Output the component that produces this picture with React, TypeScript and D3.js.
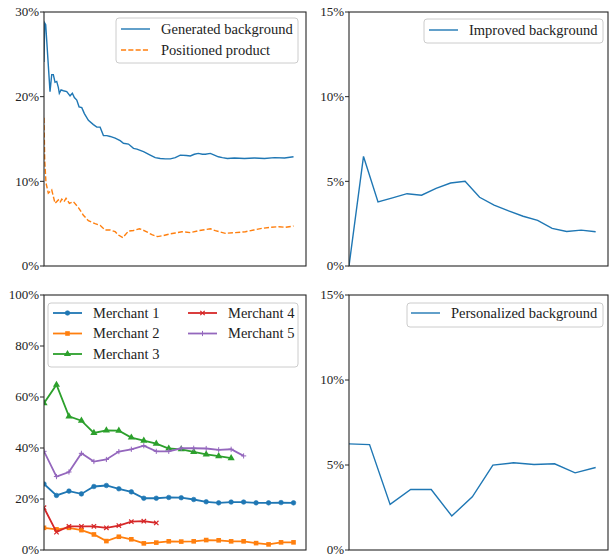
import React from "react";
import * as d3 from "d3";

// ---------- data ----------
const genX = [0, 0.7, 1.7, 6, 7.7, 9.3, 11, 12.7, 14.3, 15.3, 17, 19.3, 22.7, 26, 28.3, 30.3, 32.7, 35, 37.7, 40.3, 44.3, 49.3, 52.7, 56, 59.3, 62.7, 66, 71, 76, 79.3, 84.3, 89.3, 92.7, 99.3, 106, 111, 116, 121, 126, 131, 136, 142, 146, 150, 154, 158, 161, 166, 170, 174, 178, 183, 190, 200, 210, 220, 230, 240, 249];
const genY = [24.1, 28.7, 28.5, 20.6, 22.6, 22.6, 21.7, 21.8, 21.1, 20.4, 20.8, 20.7, 20.6, 20.1, 20.4, 19.9, 19.6, 18.8, 18.7, 18.0, 17.2, 16.7, 16.4, 16.4, 15.4, 15.4, 15.3, 15.1, 14.8, 14.5, 14.4, 13.9, 13.8, 13.5, 13.1, 12.8, 12.7, 12.65, 12.65, 12.8, 13.1, 13.05, 13.0, 13.2, 13.3, 13.2, 13.2, 13.3, 13.1, 12.9, 12.8, 12.7, 12.75, 12.7, 12.75, 12.7, 12.8, 12.75, 12.9];
const prodX = [0, 0.7, 2, 4.3, 7.7, 11, 14.3, 16, 17.7, 20, 22, 25.3, 29.3, 34.3, 39.3, 44.3, 51, 56, 61, 66, 71, 74.3, 78.7, 84.3, 89.3, 95.3, 101, 107.7, 113.3, 119.3, 126, 131, 137.7, 146, 154.3, 166, 171, 181, 191, 201, 209.3, 217.7, 226, 234.3, 241, 249];
const prodY = [17.5, 12.5, 9.8, 8.6, 9.0, 7.4, 7.8, 7.5, 7.9, 7.6, 8.0, 7.4, 7.6, 6.9, 6.0, 5.35, 5.0, 4.8, 4.25, 4.25, 4.05, 3.66, 3.35, 4.13, 4.2, 4.4, 4.13, 3.7, 3.47, 3.6, 3.8, 3.9, 4.05, 3.94, 4.17, 4.4, 4.17, 3.86, 3.94, 4.05, 4.25, 4.45, 4.57, 4.64, 4.57, 4.72];

const improvedY = [0, 6.47, 3.78, 4.02, 4.27, 4.18, 4.59, 4.9, 5.0, 4.06, 3.59, 3.25, 2.94, 2.7, 2.22, 2.04, 2.12, 2.02];
const personalizedY = [6.24, 6.2, 2.68, 3.56, 3.56, 2.0, 3.13, 4.99, 5.13, 5.03, 5.07, 4.54, 4.85];

const merchant1 = [25.9, 21.4, 23.1, 22.0, 24.9, 25.3, 24.0, 22.8, 20.3, 20.3, 20.6, 20.5, 19.8, 18.9, 18.5, 18.8, 18.8, 18.5, 18.5, 18.6, 18.5];
const merchant2 = [8.7, 8.1, 8.7, 7.8, 6.1, 3.5, 5.2, 4.2, 2.6, 2.9, 3.4, 3.3, 3.4, 3.9, 3.8, 3.4, 3.4, 2.7, 2.2, 3.0, 3.0];
const merchant3 = [57.6, 64.8, 52.4, 50.7, 45.9, 46.9, 46.8, 44.1, 42.9, 41.7, 39.8, 39.5, 38.5, 37.5, 36.8, 36.0];
const merchant4 = [16.6, 7.0, 9.3, 9.3, 9.3, 8.7, 9.6, 11.1, 11.3, 10.6];
const merchant5 = [38.7, 28.8, 30.6, 37.9, 34.7, 35.5, 38.6, 39.5, 40.9, 38.7, 38.7, 39.9, 39.9, 39.8, 39.3, 39.5, 36.9];

const ticksTop = [0, 10, 20, 30];
const ticksSmall = [0, 5, 10, 15];
const ticksMerchant = [0, 20, 40, 60, 80, 100];

// ---------- style ----------
const FONT = "'Liberation Serif', 'DejaVu Serif', serif";
const BLUE = "#1f77b4";
const ORANGE = "#ff7f0e";
const GREEN = "#2ca02c";
const RED = "#d62728";
const PURPLE = "#9467bd";
const SPINE = "#262626";
const TICK_FS = 13;
const LEG_FS = 14.5;

type Box = { x0: number; x1: number; y0: number; y1: number };

const P1: Box = { x0: 44, x1: 306, y0: 12, y1: 266 };
const P2: Box = { x0: 349, x1: 608, y0: 12, y1: 266 };
const P3: Box = { x0: 44, x1: 306, y0: 295, y1: 550 };
const P4: Box = { x0: 349, x1: 608, y0: 295, y1: 550 };

function Frame({ box, y, ticks }: { box: Box; y: d3.ScaleLinear<number, number>; ticks: number[] }) {
  return (
    <g>
      {ticks.map((t) => (
        <g key={t}>
          <line x1={box.x0 - 4} x2={box.x0} y1={y(t)} y2={y(t)} stroke={SPINE} strokeWidth={1} />
          <text
            x={box.x0 - 5}
            y={y(t)}
            dy="0.33em"
            textAnchor="end"
            fontFamily={FONT}
            fontSize={TICK_FS}
            fill="#222"
          >
            {t + "%"}
          </text>
        </g>
      ))}
      <rect
        x={box.x0}
        y={box.y0}
        width={box.x1 - box.x0}
        height={box.y1 - box.y0}
        fill="none"
        stroke={SPINE}
        strokeWidth={1.1}
      />
    </g>
  );
}

function Marker({ kind, x, y, color }: { kind: string; x: number; y: number; color: string }) {
  if (kind === "o") return <circle cx={x} cy={y} r={2.3} fill={color} stroke={color} strokeWidth={0.6} />;
  if (kind === "s") return <rect x={x - 2.3} y={y - 2.3} width={4.6} height={4.6} fill={color} />;
  if (kind === "^") {
    const p = d3.symbol(d3.symbolTriangle, 22)();
    return <path d={p || ""} transform={`translate(${x},${y})`} fill={color} />;
  }
  if (kind === "x")
    return (
      <path
        d={`M${x - 2.2},${y - 2.2}L${x + 2.2},${y + 2.2}M${x - 2.2},${y + 2.2}L${x + 2.2},${y - 2.2}`}
        stroke={color}
        strokeWidth={1.2}
      />
    );
  if (kind === "+")
    return (
      <path d={`M${x - 2.6},${y}L${x + 2.6},${y}M${x},${y - 2.6}L${x},${y + 2.6}`} stroke={color} strokeWidth={1} />
    );
  return null;
}

function LegendBox({ x, y, w, h }: { x: number; y: number; w: number; h: number }) {
  return <rect x={x} y={y} width={w} height={h} rx={3} fill="white" fillOpacity={0.8} stroke="#cccccc" strokeWidth={1} />;
}

function LegendEntry({
  x,
  y,
  color,
  label,
  dash,
  marker,
  lw,
}: {
  x: number;
  y: number;
  color: string;
  label: string;
  dash?: string;
  marker?: string;
  lw: number;
}) {
  return (
    <g>
      <line x1={x} x2={x + 29} y1={y} y2={y} stroke={color} strokeWidth={lw} strokeDasharray={dash} />
      {marker && <Marker kind={marker} x={x + 14.5} y={y} color={color} />}
      <text x={x + 40} y={y} dy="0.33em" fontFamily={FONT} fontSize={LEG_FS} fill="#222">
        {label}
      </text>
    </g>
  );
}

export default function App() {
  // Panel 1
  const x1 = d3.scaleLinear().domain([0, d3.max(genX)! * 1.05]).range([P1.x0, P1.x1]);
  const y1 = d3.scaleLinear().domain([0, 30]).range([P1.y1, P1.y0]);
  const lineXY = (xs: number[], ys: number[], xs_: any, ys_: any) =>
    d3
      .line<number>()
      .x((_, i) => xs_(xs[i]))
      .y((d) => ys_(d))(ys) || "";

  // Panel 2
  const x2 = d3.scaleLinear().domain([0, (improvedY.length - 1) * 1.05]).range([P2.x0, P2.x1]);
  const y2 = d3.scaleLinear().domain([0, 15]).range([P2.y1, P2.y0]);
  const line2 = d3.line<number>().x((_, i) => x2(i)).y((d) => y2(d))(improvedY) || "";

  // Panel 3
  const x3 = d3.scaleLinear().domain([0, (merchant1.length - 1) * 1.05]).range([P3.x0, P3.x1]);
  const y3 = d3.scaleLinear().domain([0, 100]).range([P3.y1, P3.y0]);
  const mLine = d3.line<number>().x((_, i) => x3(i)).y((d) => y3(d));
  const merchants = [
    { data: merchant1, color: BLUE, marker: "o", label: "Merchant 1" },
    { data: merchant2, color: ORANGE, marker: "s", label: "Merchant 2" },
    { data: merchant3, color: GREEN, marker: "^", label: "Merchant 3" },
    { data: merchant4, color: RED, marker: "x", label: "Merchant 4" },
    { data: merchant5, color: PURPLE, marker: "+", label: "Merchant 5" },
  ];

  // Panel 4
  const x4 = d3.scaleLinear().domain([0, (personalizedY.length - 1) * 1.05]).range([P4.x0, P4.x1]);
  const y4 = d3.scaleLinear().domain([0, 15]).range([P4.y1, P4.y0]);
  const line4 = d3.line<number>().x((_, i) => x4(i)).y((d) => y4(d))(personalizedY) || "";

  const clip = (id: string, b: Box) => (
    <clipPath id={id}>
      <rect x={b.x0} y={b.y0} width={b.x1 - b.x0} height={b.y1 - b.y0} />
    </clipPath>
  );

  const mlw = 1.8;

  return (
    <svg
      width={610}
      height={560}
      viewBox="0 0 610 560"
      style={{ position: "absolute", left: 0, top: 0, background: "white" }}
    >
      <defs>
        {clip("c1", P1)}
        {clip("c2", P2)}
        {clip("c3", P3)}
        {clip("c4", P4)}
      </defs>
      <rect width={610} height={560} fill="white" />

      {/* Panel 1 */}
      <g clipPath="url(#c1)">
        <path d={lineXY(genX, genY, x1, y1)} fill="none" stroke={BLUE} strokeWidth={1.4} />
        <path
          d={lineXY(prodX, prodY, x1, y1)}
          fill="none"
          stroke={ORANGE}
          strokeWidth={1.4}
          strokeDasharray="5.1,2.2"
        />
      </g>
      <Frame box={P1} y={y1} ticks={ticksTop} />
      <LegendBox x={116} y={18} w={182} h={45} />
      <LegendEntry x={121} y={29} color={BLUE} label="Generated background" lw={1.4} />
      <LegendEntry x={121} y={50} color={ORANGE} label="Positioned product" lw={1.4} dash="5.1,2.2" />

      {/* Panel 2 */}
      <g clipPath="url(#c2)">
        <path d={line2} fill="none" stroke={BLUE} strokeWidth={1.4} />
      </g>
      <Frame box={P2} y={y2} ticks={ticksSmall} />
      <LegendBox x={424} y={19} w={179} h={24} />
      <LegendEntry x={429} y={30} color={BLUE} label="Improved background" lw={1.4} />

      {/* Panel 3 */}
      <g clipPath="url(#c3)">
        {merchants.map((m) => (
          <g key={m.label}>
            <path d={mLine(m.data) || ""} fill="none" stroke={m.color} strokeWidth={mlw} />
            {m.data.map((v, i) => (
              <Marker key={i} kind={m.marker} x={x3(i)} y={y3(v)} color={m.color} />
            ))}
          </g>
        ))}
      </g>
      <Frame box={P3} y={y3} ticks={ticksMerchant} />
      <LegendBox x={48} y={303} w={250} h={64} />
      {merchants.map((m, k) => (
        <LegendEntry
          key={m.label}
          x={k < 3 ? 53 : 188}
          y={313 + (k % 3) * 20.5}
          color={m.color}
          label={m.label}
          marker={m.marker}
          lw={mlw}
        />
      ))}

      {/* Panel 4 */}
      <g clipPath="url(#c4)">
        <path d={line4} fill="none" stroke={BLUE} strokeWidth={1.4} />
      </g>
      <Frame box={P4} y={y4} ticks={ticksSmall} />
      <LegendBox x={407} y={303} w={196} h={24} />
      <LegendEntry x={411} y={313} color={BLUE} label="Personalized background" lw={1.4} />
    </svg>
  );
}
